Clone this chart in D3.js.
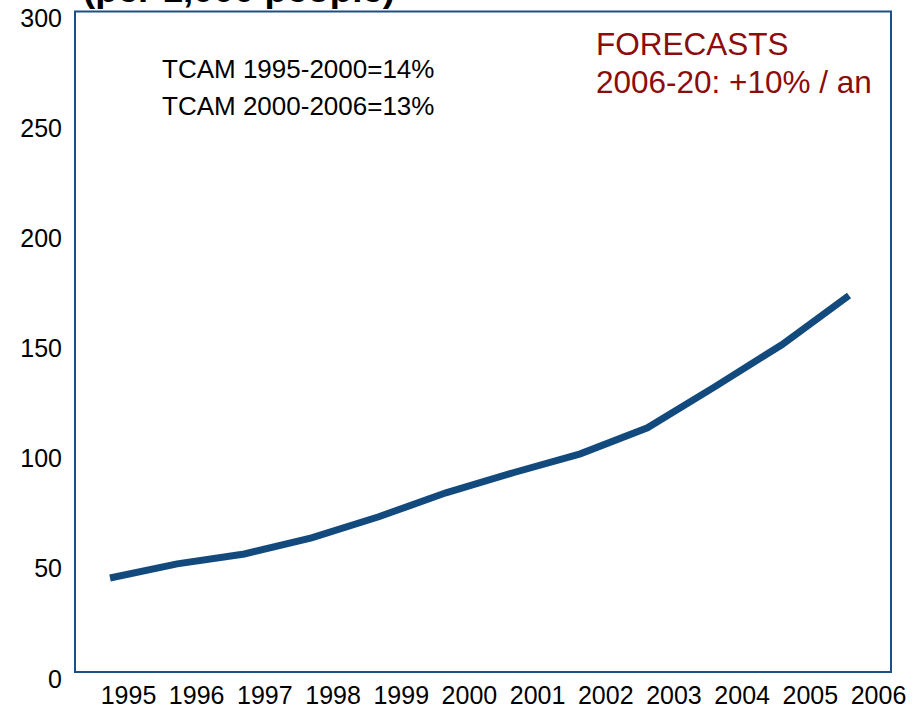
<!DOCTYPE html>
<html><head><meta charset="utf-8">
<script src="https://cdn.jsdelivr.net/npm/d3@7"></script>
<style>body{margin:0;background:#fff}svg{display:block}text{font-family:"Liberation Sans",Arial,sans-serif}</style>
</head><body><svg id="c" width="916" height="715"></svg>
<script>
const years = ["1995","1996","1997","1998","1999","2000","2001","2002","2003","2004","2005","2006"];
const values = [42.7,49.1,53.6,60.9,70.5,81.4,90.5,99.1,110.9,129.5,148.6,171];
const yTicks = [0,50,100,150,200,250,300];
const title = "(per 1,000 people)";
const notes = ["TCAM 1995-2000=14%","TCAM 2000-2006=13%"];
const forecast = ["FORECASTS","2006-20: +10% / an"];

const svg = d3.select("#c");
const box = {l:75, r:891, t:11.5, b:672};
const y = d3.scaleLinear().domain([0,300]).range([box.b, box.t]);
const x = d3.scalePoint().domain(years).range([110, 849]);
const xl = d3.scalePoint().domain(years).range([128, 878]);

// title (cut off at top, as in the original)
svg.append("text").attr("x",83).attr("y",2).attr("font-size",35).attr("font-weight","bold")
  .attr("textLength",312).attr("lengthAdjust","spacingAndGlyphs")
  .attr("fill","#000").text(title);

svg.append("rect").attr("x",box.l).attr("y",box.t).attr("width",box.r-box.l).attr("height",box.b-box.t)
  .attr("fill","none").attr("stroke","#1f4e82").attr("stroke-width",2);

// y axis labels
const ya = svg.append("g").attr("transform","translate(62,7)")
  .call(d3.axisLeft(y).tickValues(yTicks).tickSize(0).tickPadding(0));
ya.select(".domain").remove();
ya.selectAll("text").attr("font-size",25).attr("fill","#000").style("font-family","Liberation Sans, Arial");

// x axis labels
const xa = svg.append("g").attr("transform","translate(0,686)")
  .call(d3.axisBottom(xl).tickSize(0).tickPadding(0));
xa.select(".domain").remove();
xa.selectAll("text").attr("font-size",25).attr("fill","#000").style("font-family","Liberation Sans, Arial");

// line
svg.append("path").datum(years.map((d,i)=>[d,values[i]]))
  .attr("fill","none").attr("stroke","#124a7e").attr("stroke-width",7)
  .attr("d", d3.line().x(d=>x(d[0])).y(d=>y(d[1])));

// notes
svg.selectAll(".note").data(notes).join("text").attr("class","note")
  .attr("x",162).attr("y",(d,i)=>78+i*37).attr("font-size",26).attr("fill","#000").text(d=>d);

svg.selectAll(".fc").data(forecast).join("text").attr("class","fc")
  .attr("x",596).attr("y",(d,i)=>55+i*38).attr("font-size",31.5).attr("fill","#8b0c0c").text(d=>d);
</script></body></html>
